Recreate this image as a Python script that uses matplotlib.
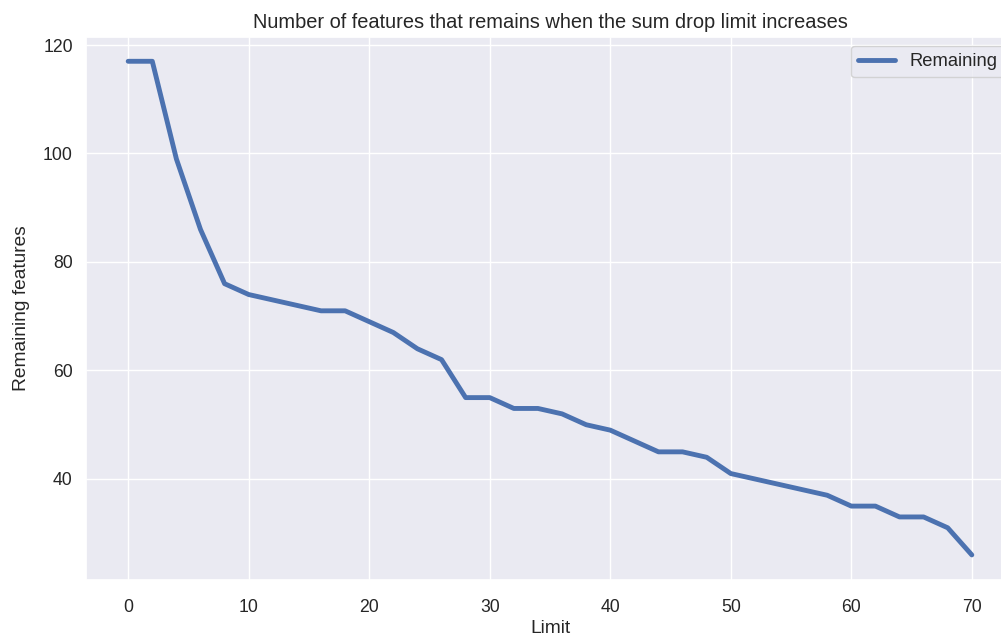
import numpy as np
import pandas as pd
import matplotlib
matplotlib.use("Agg")
import matplotlib.pyplot as plt
import seaborn as sns

# sum drop limits and remaining feature counts
limits = list(range(0, 72, 2))
remaining = [117, 117, 99, 86, 76, 74, 73, 72, 71, 71,
             69, 67, 64, 62, 55, 55, 53, 53, 52, 50,
             49, 47, 45, 45, 44, 41, 40, 39, 38, 37,
             35, 35, 33, 33, 31, 26]

df = pd.DataFrame({"Limit": limits, "Remaining": remaining})

sns.set_theme()
plt.rcParams["font.family"] = ["Liberation Sans", "DejaVu Sans"]
plt.rcParams["xtick.labelsize"] = 12.7
plt.rcParams["ytick.labelsize"] = 12.7
plt.rcParams["axes.labelsize"] = 13.8
plt.rcParams["axes.titlesize"] = 14.4
plt.rcParams["legend.fontsize"] = 13.2
plt.rcParams["xtick.major.pad"] = 8

fig = plt.figure(figsize=(10.01, 6.36), dpi=100)
# axes runs a little past the right edge, as in the cropped original
ax = fig.add_axes([86 / 1001, 1 - 579.6 / 636, (1014 - 86) / 1001, (579.6 - 36.6) / 636])

ax.plot(df["Limit"], df["Remaining"], linewidth=3.5, color="#4c72b0", label="Remaining")

ax.set_xlabel("Limit", labelpad=3)
ax.set_ylabel("Remaining features", labelpad=9)
ax.set_title("Number of features that remains when the sum drop limit increases")
ax.legend(loc="upper right")

fig.savefig("out.png", dpi=100)
